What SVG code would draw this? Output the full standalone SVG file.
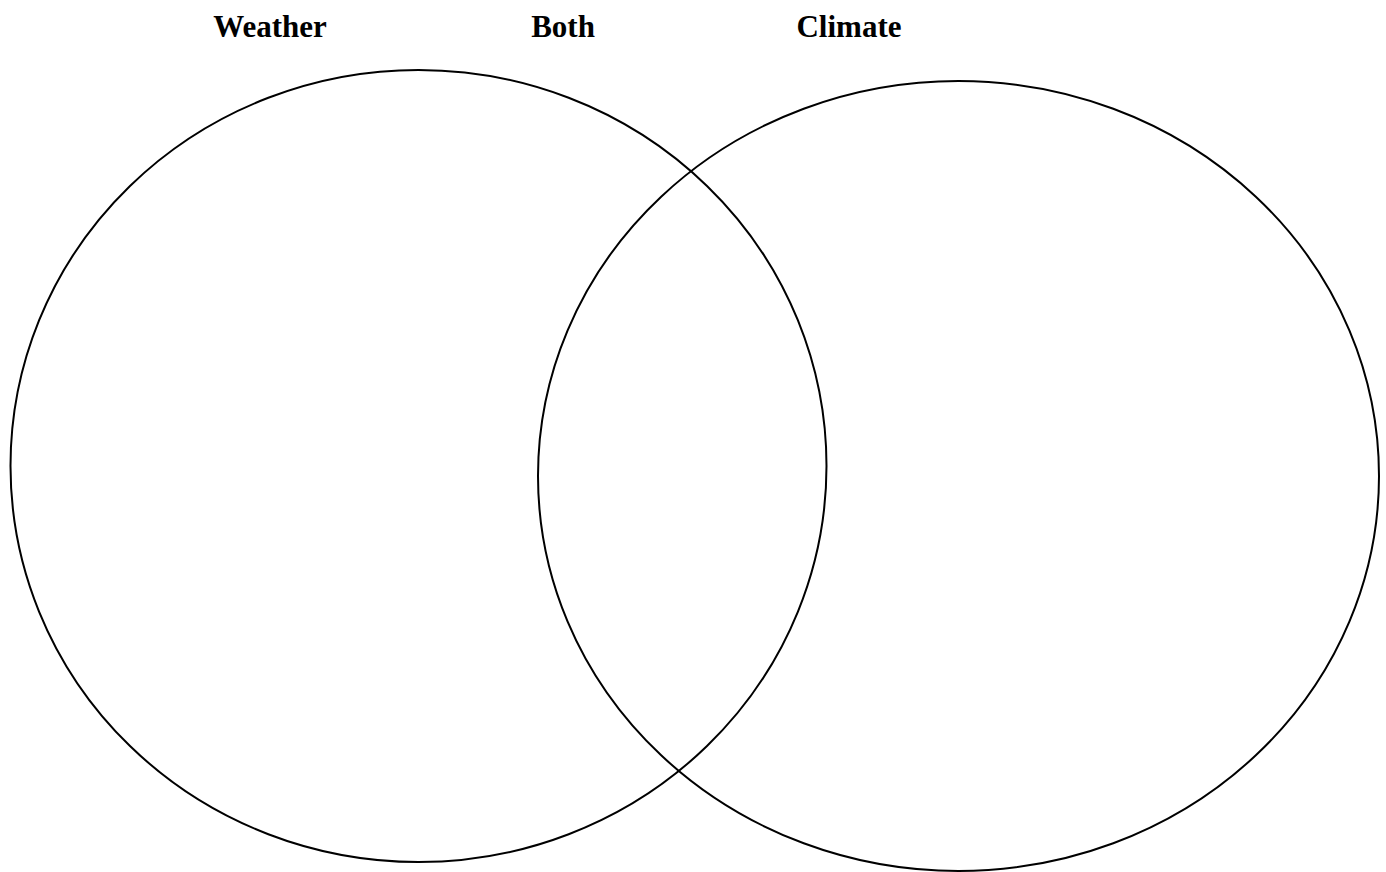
<svg xmlns="http://www.w3.org/2000/svg" width="1386" height="872" viewBox="0 0 1386 872">
<style>
.lbl{font-family:"Liberation Serif","Times New Roman",serif;font-weight:bold;font-size:31px;fill:#000}
.c{fill:none;stroke:#000;stroke-width:2}
</style>
<rect width="1386" height="872" fill="#fff"/>
<g id="weather"><ellipse class="c" cx="418.5" cy="466" rx="408" ry="396"/><text class="lbl" x="270" y="37" text-anchor="middle">Weather</text></g>
<g id="climate"><ellipse class="c" cx="958.5" cy="476" rx="420.5" ry="395"/><text class="lbl" x="849" y="37" text-anchor="middle">Climate</text></g>
<g id="both"><text class="lbl" x="563" y="37" text-anchor="middle">Both</text></g>
<g id="connectors"/>
</svg>
